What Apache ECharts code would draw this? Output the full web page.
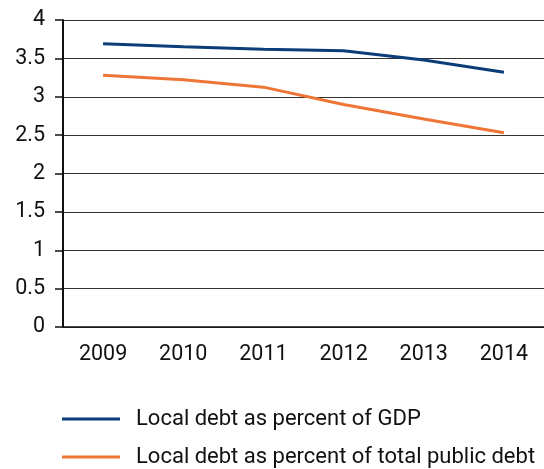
<!DOCTYPE html>
<html>
<head>
<meta charset="utf-8">
<script src="https://cdn.jsdelivr.net/npm/echarts@6/dist/echarts.min.js"></script>
<style>
  html, body { margin: 0; padding: 0; background: #fff; }
  #chart { width: 544px; height: 469px; }
</style>
</head>
<body>
<div id="chart"></div>
<script>
// values
const years = ['2009', '2010', '2011', '2012', '2013', '2014']
const debtPctGdp = [3.69, 3.65, 3.62, 3.6, 3.48, 3.32]
const debtPctPublic = [3.28, 3.22, 3.125, 2.9, 2.71, 2.53]
const seriesNames = ['Local debt as percent of GDP', 'Local debt as percent of total public debt']

const font = 'Roboto, "Liberation Sans", Arial, sans-serif'

const chart = echarts.init(document.getElementById('chart'))

chart.setOption({
  animation: false,
  textStyle: { fontFamily: font },
  grid: {
    left: 63,
    top: 20,
    width: 487,
    height: 307,
  },
  legend: {
    orient: 'vertical',
    left: 57,
    top: 401,
    height: 80,
    width: 500,
    icon: 'rect',
    itemWidth: 58,
    itemHeight: 3,
    itemGap: 12,
    data: seriesNames,
    textStyle: {
      fontFamily: font,
      fontSize: 22,
      color: '#111',
      lineHeight: 26,
      padding: [0, 0, 0, 11],
    },
  },
  xAxis: {
    type: 'category',
    data: years,
    boundaryGap: true,
    axisLine: { lineStyle: { color: '#111', width: 1.5 } },
    axisTick: { length: 5, lineStyle: { color: '#111', width: 1.5 } },
    axisLabel: { fontSize: 21.5, color: '#111', margin: 17, fontFamily: font },
  },
  yAxis: {
    type: 'value',
    min: 0,
    max: 4,
    interval: 0.5,
    axisLine: { show: true, lineStyle: { color: '#111', width: 2 } },
    axisTick: { show: true, length: 8, lineStyle: { color: '#111', width: 1.5 } },
    axisLabel: { fontSize: 21.5, color: '#111', margin: 18, fontFamily: font },
    splitLine: { lineStyle: { color: '#333', width: 1 } },
  },
  series: [
    {
      name: seriesNames[0],
      type: 'line',
      data: debtPctGdp,
      symbol: 'none',
      color: '#0b3d79',
      lineStyle: { width: 3, color: '#0b3d79' },
    },
    {
      name: seriesNames[1],
      type: 'line',
      data: debtPctPublic,
      symbol: 'none',
      color: '#ee7536',
      lineStyle: { width: 3, color: '#ee7536' },
    },
  ],
})
</script>
</body>
</html>
